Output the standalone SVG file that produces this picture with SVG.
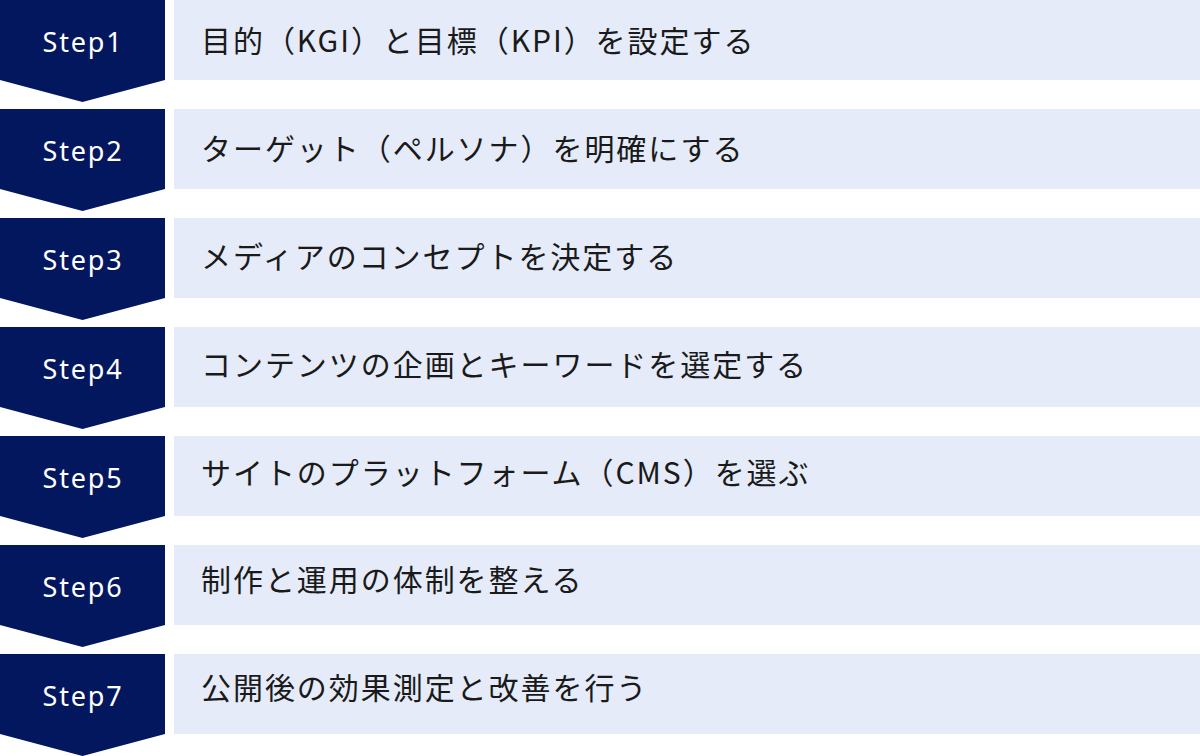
<svg xmlns="http://www.w3.org/2000/svg" width="1200" height="756" viewBox="0 0 1200 756">
<defs>
<style>
.chev{fill:#03175F;}
.band{fill:#E5EBF8;}
.step{font-family:"Noto Sans","Open Sans",sans-serif;font-size:27px;fill:#FFFFFF;letter-spacing:1.8px;text-anchor:middle;}
.lbl{font-family:"Noto Sans CJK JP","Noto Sans",sans-serif;font-size:30px;fill:#1A1A1A;letter-spacing:1.95px;}
</style>
<path id="chevShape" d="M0,0 H165 V80 L82.5,102 L0,80 Z"/>
</defs>
<rect width="1200" height="756" fill="#FFFFFF"/>
<g id="connectors"></g>
<g id="step1">
<use href="#chevShape" class="chev" transform="translate(0,0)"/>
<rect class="band" x="174" y="0" width="1026" height="80"/>
<text class="step" x="83" y="52">Step1</text>
<text class="lbl" x="201" y="52">目的（KGI）と目標（KPI）を設定する</text>
</g>
<g id="step2">
<use href="#chevShape" class="chev" transform="translate(0,109)"/>
<rect class="band" x="174" y="109" width="1026" height="80"/>
<text class="step" x="83" y="161">Step2</text>
<text class="lbl" x="201" y="160">ターゲット（ペルソナ）を明確にする</text>
</g>
<g id="step3">
<use href="#chevShape" class="chev" transform="translate(0,218)"/>
<rect class="band" x="174" y="218" width="1026" height="80"/>
<text class="step" x="83" y="270">Step3</text>
<text class="lbl" x="201" y="268">メディアのコンセプトを決定する</text>
</g>
<g id="step4">
<use href="#chevShape" class="chev" transform="translate(0,327)"/>
<rect class="band" x="174" y="327" width="1026" height="80"/>
<text class="step" x="83" y="379">Step4</text>
<text class="lbl" x="201" y="376">コンテンツの企画とキーワードを選定する</text>
</g>
<g id="step5">
<use href="#chevShape" class="chev" transform="translate(0,436)"/>
<rect class="band" x="174" y="436" width="1026" height="80"/>
<text class="step" x="83" y="488">Step5</text>
<text class="lbl" x="201" y="484">サイトのプラットフォーム（CMS）を選ぶ</text>
</g>
<g id="step6">
<use href="#chevShape" class="chev" transform="translate(0,545)"/>
<rect class="band" x="174" y="545" width="1026" height="80"/>
<text class="step" x="83" y="597">Step6</text>
<text class="lbl" x="201" y="591">制作と運用の体制を整える</text>
</g>
<g id="step7">
<use href="#chevShape" class="chev" transform="translate(0,654)"/>
<rect class="band" x="174" y="654" width="1026" height="80"/>
<text class="step" x="83" y="706">Step7</text>
<text class="lbl" x="201" y="699">公開後の効果測定と改善を行う</text>
</g>
</svg>
